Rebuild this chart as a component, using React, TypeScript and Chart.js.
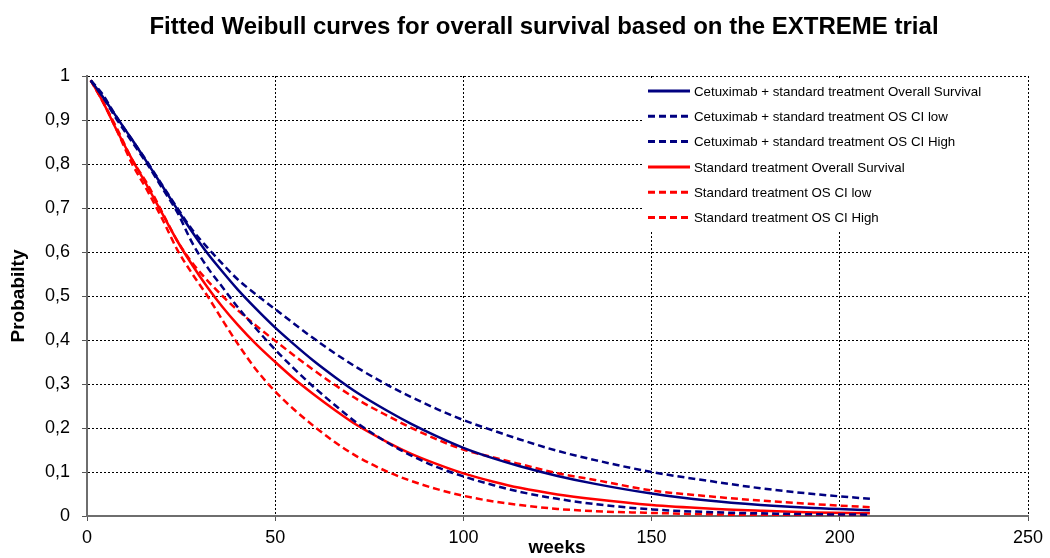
import React, { useEffect, useRef } from 'react';
import { Chart, registerables } from 'chart.js';

Chart.register(...registerables);

const chartTitle = 'Fitted Weibull curves for overall survival based on the EXTREME trial';
const xAxisTitle = 'weeks';
const yAxisTitle = 'Probabilty';
const xTickLabels = ['0', '50', '100', '150', '200', '250'];
const yTickLabels = ['0', '0,1', '0,2', '0,3', '0,4', '0,5', '0,6', '0,7', '0,8', '0,9', '1'];

const weeks = [1, 4, 8, 12, 16, 20, 24, 28, 32, 36, 40, 45, 50, 55, 60, 66, 72, 80, 86, 93, 100, 108, 115, 125, 135, 150, 165, 179, 193, 208];

const cetuxOS = [0.99, 0.955, 0.905, 0.855, 0.803, 0.75, 0.697, 0.645, 0.597, 0.555, 0.515, 0.47, 0.428, 0.39, 0.354, 0.315, 0.279, 0.238, 0.21, 0.181, 0.155, 0.131, 0.113, 0.091, 0.073, 0.051, 0.035, 0.025, 0.018, 0.013];
const cetuxCILow = [0.99, 0.955, 0.9, 0.85, 0.8, 0.745, 0.69, 0.62, 0.565, 0.52, 0.475, 0.425, 0.378, 0.335, 0.295, 0.251, 0.21, 0.166, 0.138, 0.111, 0.09, 0.07, 0.055, 0.039, 0.027, 0.015, 0.009, 0.006, 0.004, 0.003];
const cetuxCIHigh = [0.99, 0.96, 0.905, 0.855, 0.805, 0.752, 0.7, 0.65, 0.61, 0.573, 0.538, 0.503, 0.47, 0.437, 0.405, 0.369, 0.336, 0.297, 0.271, 0.243, 0.218, 0.194, 0.174, 0.148, 0.127, 0.1, 0.08, 0.063, 0.05, 0.039];
const stdOS = [0.99, 0.945, 0.875, 0.81, 0.75, 0.687, 0.625, 0.57, 0.52, 0.475, 0.435, 0.39, 0.35, 0.312, 0.278, 0.24, 0.205, 0.167, 0.142, 0.118, 0.097, 0.078, 0.064, 0.049, 0.038, 0.025, 0.017, 0.012, 0.008, 0.006];
const stdCILow = [0.99, 0.945, 0.875, 0.8, 0.74, 0.675, 0.605, 0.55, 0.5, 0.445, 0.392, 0.332, 0.283, 0.242, 0.206, 0.167, 0.134, 0.1, 0.08, 0.061, 0.046, 0.033, 0.025, 0.016, 0.011, 0.007, 0.004, 0.002, 0.002, 0.002];
const stdCIHigh = [0.99, 0.945, 0.88, 0.81, 0.755, 0.69, 0.625, 0.575, 0.535, 0.5, 0.468, 0.432, 0.398, 0.365, 0.333, 0.297, 0.264, 0.227, 0.201, 0.174, 0.151, 0.133, 0.118, 0.097, 0.082, 0.058, 0.045, 0.035, 0.027, 0.02];

const seriesLabels = [
  'Cetuximab + standard treatment Overall Survival',
  'Cetuximab + standard treatment OS CI low',
  'Cetuximab + standard treatment OS CI High',
  'Standard treatment Overall Survival',
  'Standard treatment OS CI low',
  'Standard treatment OS CI High',
];

const NAVY = '#000080';
const RED = '#ff0000';
const FONT = '"Liberation Sans", Arial, Helvetica, sans-serif';
const DASH = [7, 4];

const overlayPlugin = {
  id: 'overlay',
  afterDraw(chart: any) {
    const ctx = chart.ctx as CanvasRenderingContext2D;
    ctx.save();
    // Title
    ctx.fillStyle = '#000';
    ctx.font = `bold 24px ${FONT}`;
    ctx.textAlign = 'center';
    ctx.textBaseline = 'middle';
    ctx.fillText(chartTitle, 544, 27);
    // Axis titles
    ctx.font = `bold 19px ${FONT}`;
    ctx.fillText(xAxisTitle, 557, 548);
    ctx.save();
    ctx.translate(19, 296);
    ctx.rotate(-Math.PI / 2);
    ctx.fillText(yAxisTitle, 0, 0);
    ctx.restore();
    // Legend
    const bx = 643, by = 79, bw = 383, bh = 152;
    ctx.fillStyle = '#ffffff';
    ctx.fillRect(bx, by, bw, bh);
    ctx.font = `13.3px ${FONT}`;
    ctx.textAlign = 'left';
    ctx.textBaseline = 'middle';
    chart.data.datasets.forEach((ds: any, i: number) => {
      const y = 91 + i * 25.3;
      ctx.strokeStyle = ds.borderColor;
      ctx.lineWidth = 3;
      ctx.setLineDash(ds.borderDash && ds.borderDash.length ? DASH : []);
      ctx.beginPath();
      ctx.moveTo(648, y);
      ctx.lineTo(690, y);
      ctx.stroke();
      ctx.setLineDash([]);
      ctx.fillStyle = '#000';
      ctx.fillText(ds.label, 694, y + 1);
    });
    ctx.restore();
  },
};

export default function App() {
  const ref = useRef<HTMLCanvasElement>(null);
  useEffect(() => {
    const canvas = ref.current!;
    const mk = (label: string, values: number[], color: string, dashed: boolean) => ({
      label,
      data: weeks.map((w, i) => ({ x: w, y: values[i] })),
      borderColor: color,
      backgroundColor: color,
      borderWidth: 2.5,
      borderDash: dashed ? DASH : [],
      pointRadius: 0,
      cubicInterpolationMode: 'monotone' as const,
      fill: false,
    });
    const gridOpts: any = {
      color: '#000',
      lineWidth: 1,
      tickLength: 5,
      tickColor: '#555',
      tickBorderDash: [],
    };
    const borderOpts: any = { display: true, color: '#6e6e6e', width: 2, dash: [2, 2] };
    const chart = new Chart(canvas, {
      type: 'line',
      data: {
        datasets: [
          mk(seriesLabels[0], cetuxOS, NAVY, false),
          mk(seriesLabels[1], cetuxCILow, NAVY, true),
          mk(seriesLabels[2], cetuxCIHigh, NAVY, true),
          mk(seriesLabels[3], stdOS, RED, false),
          mk(seriesLabels[4], stdCILow, RED, true),
          mk(seriesLabels[5], stdCIHigh, RED, true),
        ],
      },
      options: {
        responsive: false,
        animation: false,
        layout: { padding: { top: 76, right: 22, bottom: 0, left: 0 } },
        plugins: {
          legend: { display: false },
          title: { display: false },
          tooltip: { enabled: false },
        },
        scales: {
          x: {
            type: 'linear',
            min: 0,
            max: 250,
            afterFit: (s: any) => { s.height = 42; },
            ticks: {
              stepSize: 50,
              color: '#000',
              font: { family: FONT, size: 18 },
              padding: 6,
              maxRotation: 0,
              callback: (v: any) => xTickLabels[Math.round(Number(v) / 50)],
            },
            grid: gridOpts,
            border: borderOpts,
          },
          y: {
            type: 'linear',
            min: 0,
            max: 1,
            afterFit: (s: any) => { s.width = 87; },
            ticks: {
              stepSize: 0.1,
              color: '#000',
              font: { family: FONT, size: 18 },
              padding: 12,
              callback: (v: any) => yTickLabels[Math.round(Number(v) * 10)],
            },
            grid: gridOpts,
            border: borderOpts,
          },
        },
      },
      plugins: [overlayPlugin],
    });
    return () => chart.destroy();
  }, []);
  return (
    <div style={{ position: 'fixed', left: 0, top: 0, width: 1050, height: 558, background: '#fff' }}>
      <canvas ref={ref} width={1050} height={558} style={{ display: 'block', width: 1050, height: 558 }} />
    </div>
  );
}
